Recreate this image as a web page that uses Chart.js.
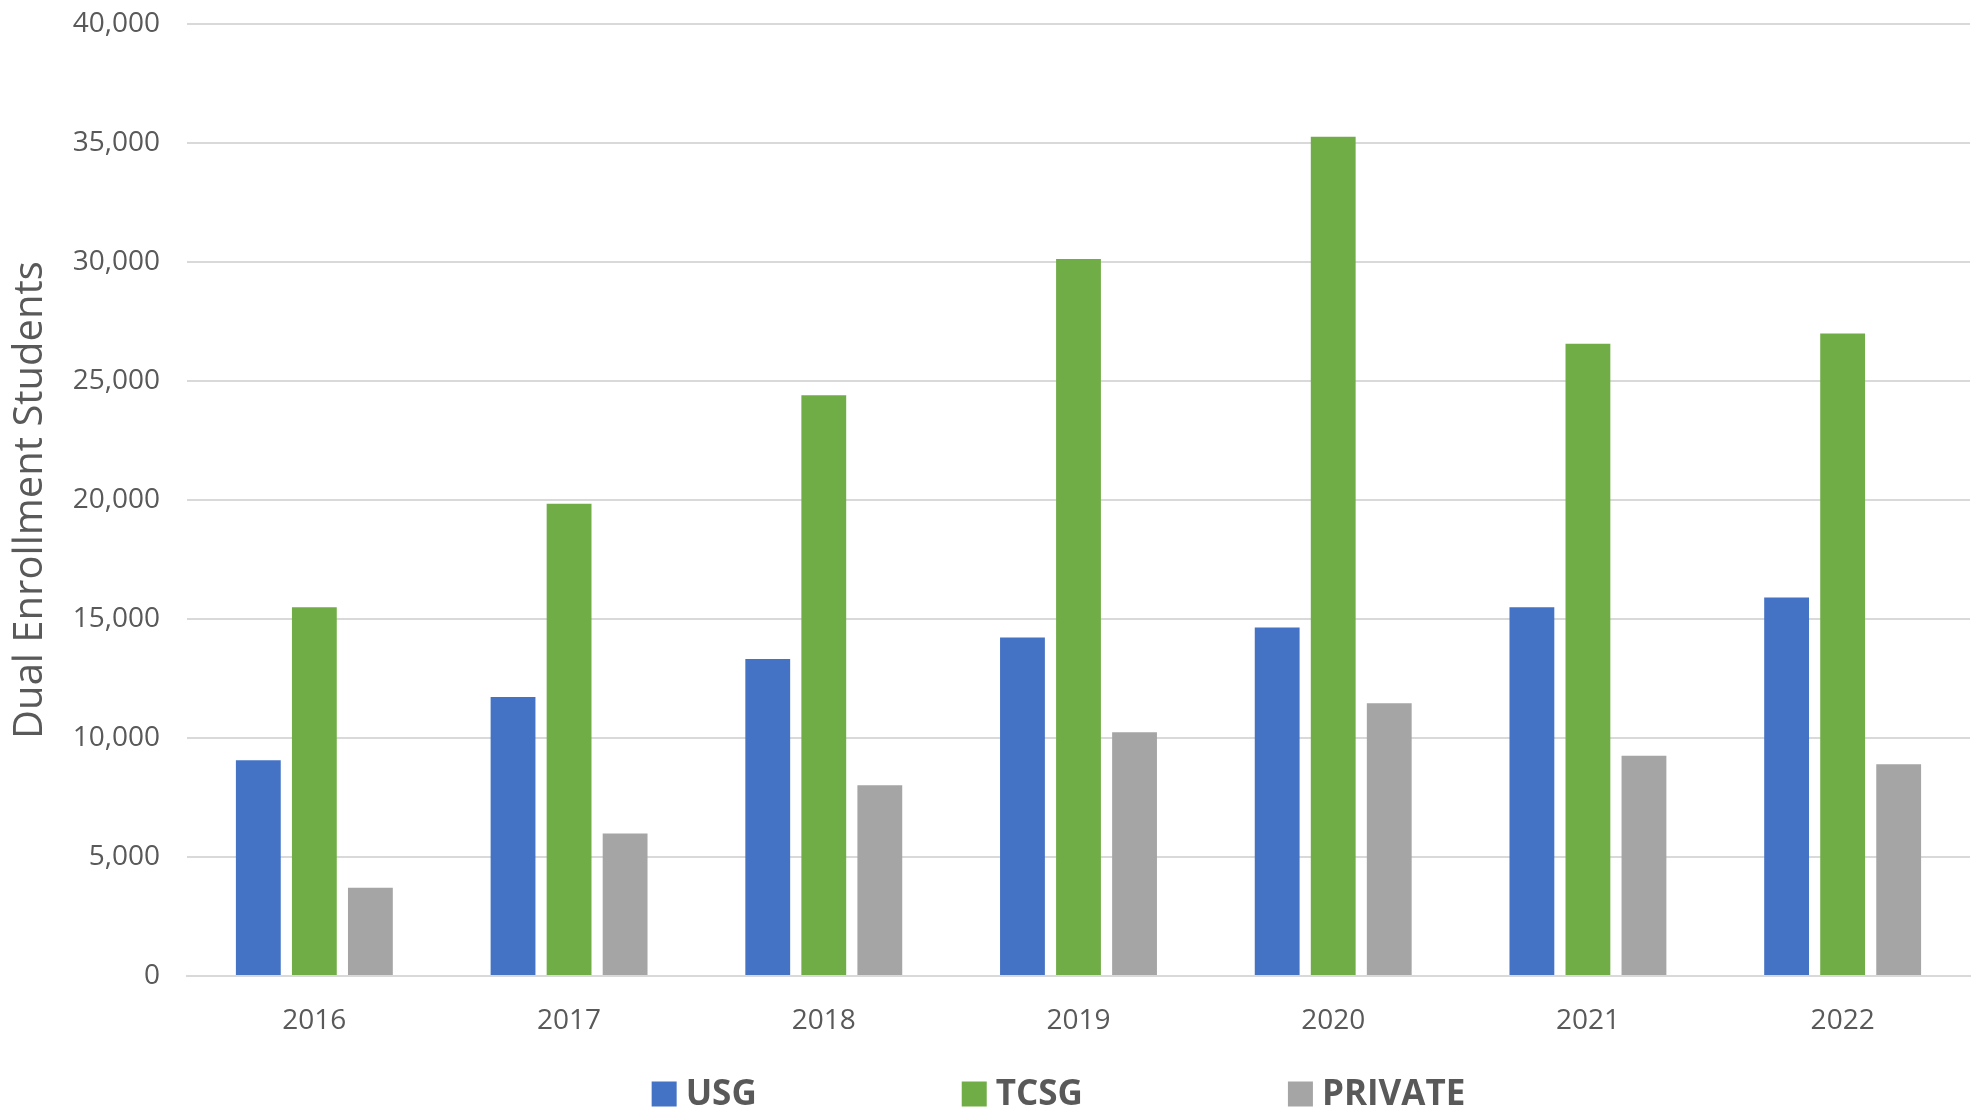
<!DOCTYPE html>
<html>
<head>
<meta charset="utf-8">
<script src="https://cdn.jsdelivr.net/npm/chart.js@4.4.1/dist/chart.umd.min.js"></script>
<style>
  html, body { margin: 0; padding: 0; background: #fff; }
</style>
</head>
<body>
<canvas id="canvas" width="1980" height="1111"></canvas>
<script>
let years = ["2016", "2017", "2018", "2019", "2020", "2021", "2022"]
let usg = [9070, 11720, 13320, 14220, 14640, 15490, 15900]
let tcsg = [15490, 19840, 24400, 30130, 35260, 26560, 27000]
let priv = [3710, 5990, 8010, 10240, 11460, 9250, 8900]
let yTicks = [0, 5000, 10000, 15000, 20000, 25000, 30000, 35000, 40000]

Chart.defaults.font.family = "'Open Sans', sans-serif"
Chart.defaults.color = "#595959"

// legend drawn under the plot, wide spacing like the original
const bottomLegend = {
  id: "bottomLegend",
  afterDraw(chart) {
    const ctx = chart.ctx
    const area = chart.chartArea
    const box = 25, gap = 9, spacing = 205
    ctx.save()
    ctx.font = "bold 35px 'Open Sans'"
    ctx.textBaseline = "middle"
    const sets = chart.data.datasets
    const widths = sets.map(d => box + gap + ctx.measureText(d.label).width)
    const total = widths.reduce((a, b) => a + b, 0) + spacing * (sets.length - 1)
    let x = (area.left + area.right) / 2 - 20 - total / 2
    const y = chart.height - 17
    sets.forEach((d, i) => {
      ctx.fillStyle = d.backgroundColor
      ctx.fillRect(x, y - box / 2, box, box)
      ctx.fillStyle = "#595959"
      ctx.fillText(d.label, x + box + gap, y + 1)
      x += widths[i] + spacing
    })
    ctx.restore()
  }
}

const ctx = document.getElementById("canvas")
const myChart = new Chart(ctx, {
  type: "bar",
  data: {
    labels: years,
    datasets: [
      { label: "USG", data: usg, backgroundColor: "#4472C4" },
      { label: "TCSG", data: tcsg, backgroundColor: "#70AD47" },
      { label: "PRIVATE", data: priv, backgroundColor: "#A5A5A5" }
    ]
  },
  options: {
    responsive: false,
    animation: false,
    devicePixelRatio: 1,
    layout: { padding: { top: 24, right: 10, bottom: 50, left: 0 } },
    datasets: {
      bar: { categoryPercentage: 0.66, barPercentage: 0.8 }
    },
    plugins: {
      legend: { display: false },
      tooltip: { enabled: false }
    },
    scales: {
      x: {
        grid: { display: false, drawTicks: false },
        border: { color: "#d9d9d9", width: 2 },
        ticks: { font: { size: 28 }, color: "#595959", padding: 28 },
        afterFit(scale) { scale.height = 85 }
      },
      y: {
        min: 0,
        max: 40000,
        afterBuildTicks(scale) { scale.ticks = yTicks.map(v => ({ value: v })) },
        grid: { color: "#d9d9d9", lineWidth: 2, drawTicks: false },
        border: { display: false },
        ticks: { font: { size: 28 }, color: "#595959", padding: 27 },
        title: {
          display: true,
          text: "Dual Enrollment Students",
          font: { size: 40 },
          color: "#595959",
          padding: { top: 7, bottom: 0 }
        },
        afterFit(scale) {
          scale.width = 187
          scale.paddingTop = 0
          scale.paddingBottom = 0
        }
      }
    }
  },
  plugins: [bottomLegend]
});
</script>
</body>
</html>
